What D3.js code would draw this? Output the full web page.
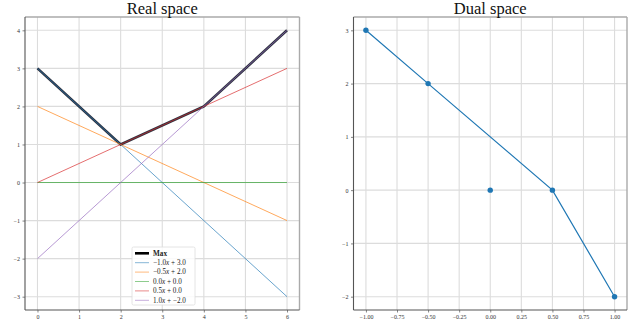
<!DOCTYPE html>
<html>
<head>
<meta charset="utf-8">
<script src="https://cdn.jsdelivr.net/npm/d3@7"></script>
<style>
  body { margin: 0; background: #fff; }
  svg text { font-family: "Liberation Serif", "DejaVu Serif", serif; }
</style>
</head>
<body>
<div id="chart"></div>
<script>
var W = 638, H = 328;

// lines y = slope * x + intercept
var slopes = [-1.0, -0.5, 0.0, 0.5, 1.0];
var intercepts = [3.0, 2.0, 0.0, 0.0, -2.0];
var lineColors = ["#1f77b4", "#ff7f0e", "#2ca02c", "#d62728", "#9467bd"];
var xSamples = [0, 2, 4, 6];
var realXTicks = [0, 1, 2, 3, 4, 5, 6];
var realYTicks = [-3, -2, -1, 0, 1, 2, 3, 4];

// dual points (slope, intercept) and upper hull
var hullIdx = [0, 1, 3, 4];
var dualXTicks = [-1.0, -0.75, -0.5, -0.25, 0.0, 0.25, 0.5, 0.75, 1.0];
var dualYTicks = [-2, -1, 0, 1, 2, 3];

var svg = d3.select("#chart").append("svg")
    .attr("width", W)
    .attr("height", H);

function minus(s) { return s.replace("-", "\u2212"); }

function panel(box, xDom, yDom, xTicks, yTicks, xFmt, title) {
  var x = d3.scaleLinear().domain(xDom).range([box.l, box.r]);
  var y = d3.scaleLinear().domain(yDom).range([box.b, box.t]);
  var g = svg.append("g");

  // grid
  g.selectAll(".gx").data(xTicks).enter().append("line")
      .attr("x1", d => x(d)).attr("x2", d => x(d))
      .attr("y1", box.t).attr("y2", box.b)
      .attr("stroke", "#dcdcdc").attr("stroke-width", 1.1);
  g.selectAll(".gy").data(yTicks).enter().append("line")
      .attr("y1", d => y(d)).attr("y2", d => y(d))
      .attr("x1", box.l).attr("x2", box.r)
      .attr("stroke", "#dcdcdc").attr("stroke-width", 1.1);

  var xAxis = d3.axisBottom(x).tickValues(xTicks).tickFormat(xFmt)
      .tickSizeInner(2.5).tickSizeOuter(0).tickPadding(2);
  var yAxis = d3.axisLeft(y).tickValues(yTicks).tickFormat(d3.format("d"))
      .tickSizeInner(2.5).tickSizeOuter(0).tickPadding(2.5);

  var ax = g.append("g").attr("transform", "translate(0," + box.b + ")").call(xAxis);
  var ay = g.append("g").attr("transform", "translate(" + box.l + ",0)").call(yAxis);
  [ax, ay].forEach(function (a) {
    a.select(".domain").remove();
    a.selectAll(".tick line").attr("stroke", "#666").attr("stroke-width", 0.8);
    a.selectAll(".tick text")
        .attr("fill", "#333")
        .style("font-size", "6px")
        .style("font-family", "'Liberation Serif', serif");
  });

  // spines
  g.append("line").attr("x1", box.l).attr("x2", box.r).attr("y1", box.t).attr("y2", box.t)
      .attr("stroke", "#aaa").attr("stroke-width", 1.4);
  g.append("line").attr("x1", box.r).attr("x2", box.r).attr("y1", box.t).attr("y2", box.b)
      .attr("stroke", "#aaa").attr("stroke-width", 1.4);
  g.append("line").attr("x1", box.l).attr("x2", box.l).attr("y1", box.t).attr("y2", box.b)
      .attr("stroke", "#555").attr("stroke-width", 1.1);
  g.append("line").attr("x1", box.l).attr("x2", box.r).attr("y1", box.b).attr("y2", box.b)
      .attr("stroke", "#555").attr("stroke-width", 1.1);

  svg.append("text")
      .attr("x", (box.l + box.r) / 2).attr("y", 14)
      .attr("text-anchor", "middle")
      .style("font-size", "16.5px")
      .attr("fill", "#111")
      .text(title);

  return { x: x, y: y, g: g };
}

// ---- Real space ----
var real = panel({ l: 25, r: 299.5, t: 17, b: 310 }, [-0.3, 6.3], [-3.35, 4.35],
    realXTicks, realYTicks, d3.format("d"), "Real space");

var lineGen = d3.line().x(d => real.x(d[0])).y(d => real.y(d[1]));

var maxPts = xSamples.map(function (xv) {
  return [xv, d3.max(slopes, (s, i) => s * xv + intercepts[i])];
});

real.g.append("path")
    .attr("d", lineGen(maxPts))
    .attr("fill", "none")
    .attr("stroke", "#0a0f1e")
    .attr("stroke-opacity", 0.85)
    .attr("stroke-width", 2.6);

slopes.forEach(function (s, i) {
  var pts = [xSamples[0], xSamples[xSamples.length - 1]].map(xv => [xv, s * xv + intercepts[i]]);
  real.g.append("path")
      .attr("d", lineGen(pts))
      .attr("fill", "none")
      .attr("stroke", lineColors[i])
      .attr("stroke-opacity", 0.75)
      .attr("stroke-width", 0.9);
});

// legend
var lg = real.g.append("g").attr("transform", "translate(132,247)");
lg.append("rect")
    .attr("width", 63).attr("height", 58).attr("rx", 1.5)
    .attr("fill", "#fff").attr("fill-opacity", 0.85)
    .attr("stroke", "#ddd").attr("stroke-width", 0.8);

var legendItems = [{ label: "Max", color: "#000", w: 2.6, op: 1 }].concat(
  slopes.map(function (s, i) {
    return { slope: s, icpt: intercepts[i], color: lineColors[i], w: 0.9, op: 0.6 };
  })
);

legendItems.forEach(function (d, i) {
  var yy = 6.3 + i * 9.4;
  lg.append("line")
      .attr("x1", 3).attr("x2", 17).attr("y1", yy).attr("y2", yy)
      .attr("stroke", d.color).attr("stroke-opacity", d.op).attr("stroke-width", d.w);
  var t = lg.append("text")
      .attr("x", 21).attr("y", yy + 2.3)
      .attr("fill", "#222")
      .style("font-size", "7.2px");
  if (d.label) {
    t.style("font-weight", "bold").text(d.label);
  } else {
    t.append("tspan").text(minus(d.slope.toFixed(1)));
    t.append("tspan").style("font-style", "italic").text("x");
    t.append("tspan").text(" + " + minus(d.icpt.toFixed(1)));
  }
});

// ---- Dual space ----
var dual = panel({ l: 353.5, r: 627, t: 17, b: 310 }, [-1.1, 1.1], [-2.25, 3.25],
    dualXTicks, dualYTicks, d3.format(".2f"), "Dual space");

var dualLine = d3.line().x(i => dual.x(slopes[i])).y(i => dual.y(intercepts[i]));

dual.g.append("path")
    .attr("d", dualLine(hullIdx))
    .attr("fill", "none")
    .attr("stroke", "#1f77b4")
    .attr("stroke-width", 1.2);

dual.g.selectAll(".pt").data(slopes).enter().append("circle")
    .attr("cx", d => dual.x(d))
    .attr("cy", (d, i) => dual.y(intercepts[i]))
    .attr("r", 2.7)
    .attr("fill", "#1f77b4");
</script>
</body>
</html>
